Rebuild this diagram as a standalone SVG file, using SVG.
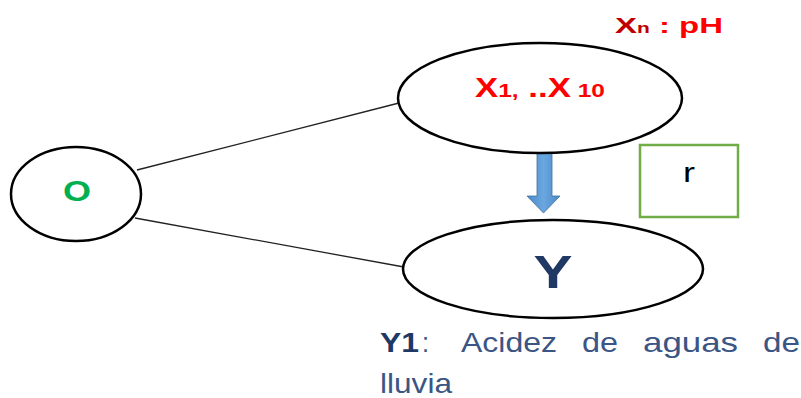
<svg xmlns="http://www.w3.org/2000/svg" width="801" height="398" viewBox="0 0 801 398">
<defs>
<style>
.node{fill:#fff;stroke:#000;stroke-width:2.5}
.edge{stroke:#222;stroke-width:1.3;fill:none}
.t{font-family:"Liberation Sans",Arial,sans-serif}
.b{font-weight:bold}
.cap{fill:#3b5584;font-size:28px}
</style>
<linearGradient id="ag" x1="0" y1="0" x2="1" y2="0">
<stop offset="0" stop-color="#4a8ac9"/>
<stop offset="0.5" stop-color="#6aa7e0"/>
<stop offset="1" stop-color="#4a8ac9"/>
</linearGradient>
</defs>
<rect width="801" height="398" fill="#fff"/>
<g id="connectors">
<line class="edge" x1="137" y1="170" x2="399" y2="103"/>
<line class="edge" x1="135" y1="218" x2="404" y2="267"/>
<polygon points="537,153 552,153 552,196 560,196 543.5,213 527,196 537,196" fill="url(#ag)" stroke="#41719c" stroke-width="0.8"/>
</g>
<g id="node-O">
<ellipse class="node" cx="76" cy="194" rx="65" ry="47"/>
<text class="t b" x="63" y="201" font-size="29" fill="#00b050" textLength="28" lengthAdjust="spacingAndGlyphs">O</text>
</g>
<g id="node-X">
<ellipse class="node" cx="540" cy="98" rx="142" ry="55"/>
<text class="t b" x="475" y="97" fill="#ff0000" textLength="130" lengthAdjust="spacingAndGlyphs"><tspan font-size="27">X</tspan><tspan font-size="19">1,</tspan><tspan font-size="27"> ..X</tspan><tspan font-size="19"> 10</tspan></text>
</g>
<g id="label-Xn">
<text class="t b" x="615" y="33" textLength="108" lengthAdjust="spacingAndGlyphs"><tspan font-size="22" fill="#c00000">X</tspan><tspan font-size="14" fill="#c00000">n</tspan><tspan font-size="22" fill="#ff0000"> : pH</tspan></text>
</g>
<g id="node-Y">
<ellipse class="node" cx="553" cy="269" rx="150" ry="49"/>
<text class="t b" x="533.5" y="288" font-size="46" fill="#1f3864" textLength="39" lengthAdjust="spacingAndGlyphs">Y</text>
</g>
<g id="node-r">
<rect x="640" y="145" width="98" height="72" fill="#fff" stroke="#70ad47" stroke-width="2.5"/>
<text class="t" x="683" y="182" font-size="28" fill="#000" textLength="12" lengthAdjust="spacingAndGlyphs">r</text>
</g>
<g id="caption">
<text class="t b" x="380" y="352" font-size="28" fill="#1f3864" textLength="39" lengthAdjust="spacingAndGlyphs">Y1</text>
<text class="t cap" x="422" y="352" textLength="7" lengthAdjust="spacingAndGlyphs">:</text>
<text class="t cap" x="461" y="352" textLength="96" lengthAdjust="spacingAndGlyphs">Acidez</text>
<text class="t cap" x="582" y="352" textLength="36" lengthAdjust="spacingAndGlyphs">de</text>
<text class="t cap" x="643" y="352" textLength="95" lengthAdjust="spacingAndGlyphs">aguas</text>
<text class="t cap" x="763" y="352" textLength="37" lengthAdjust="spacingAndGlyphs">de</text>
<text class="t cap" x="380" y="393" font-size="27" textLength="72" lengthAdjust="spacingAndGlyphs">lluvia</text>
</g>
</svg>
